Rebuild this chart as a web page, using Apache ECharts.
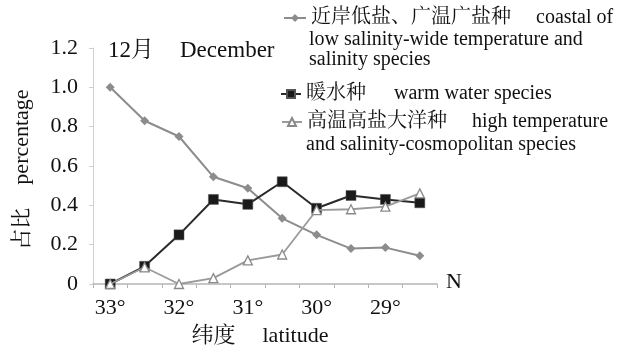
<!DOCTYPE html>
<html>
<head>
<meta charset="utf-8">
<script src="https://cdn.jsdelivr.net/npm/echarts@6/dist/echarts.min.js"></script>
<style>
  html, body { margin: 0; padding: 0; background: #fff; }
  #chart { width: 622px; height: 354px; }
</style>
</head>
<body>
<div id="chart"></div>
<script>
// Latitude stations, north to south
const latitudes = ['33°', '32.5°', '32°', '31.5°', '31°', '30.5°', '30°', '29.5°', '29°', '28.5°'];
// Share of each ecological group at each station (December)
const coastal = [1.0, 0.83, 0.75, 0.545, 0.487, 0.334, 0.25, 0.18, 0.185, 0.144];
const warmWater = [0.0, 0.09, 0.25, 0.43, 0.405, 0.52, 0.385, 0.45, 0.43, 0.413];
const oceanic = [0.0, 0.085, 0.0, 0.03, 0.12, 0.15, 0.376, 0.38, 0.393, 0.461];
const yTicks = [0, 0.2, 0.4, 0.6, 0.8, 1.0, 1.2];

const serif = "'Liberation Serif', 'Noto Serif CJK SC', 'Noto Sans CJK SC', serif";
const ink = '#111';

const chart = echarts.init(document.getElementById('chart'), null, { renderer: 'canvas' });

function legendAt(name, left, top, zh, en, gap, iconW) {
  return {
    data: [name],
    left: left,
    top: top,
    orient: 'vertical',
    padding: 0,
    itemWidth: iconW,
    itemHeight: 10,
    selectedMode: false,
    formatter: () => '{z|' + zh + '}{e|' + en + '}',
    textStyle: {
      fontFamily: serif,
      fontSize: 20,
      color: ink,
      rich: {
        z: { fontFamily: serif, fontSize: 20, color: ink },
        e: { fontFamily: serif, fontSize: 20, color: ink, padding: [0, 0, 0, gap] }
      }
    }
  };
}

const option = {
  animation: false,
  backgroundColor: '#fff',
  grid: { left: 93, right: 185, top: 48, bottom: 70, containLabel: false, outerBoundsMode: 'none' },
  legend: [
    legendAt('coastal', 283, 8, '近岸低盐、广温广盐种', 'coastal of', 25, 22),
    legendAt('warm', 280, 84, '暖水种', 'warm water species', 28, 20),
    legendAt('oceanic', 281, 112, '高温高盐大洋种', 'high temperature', 25, 20)
  ],
  xAxis: {
    type: 'category',
    data: latitudes,
    boundaryGap: true,
    name: '{z|纬度}{e|latitude}',
    nameLocation: 'middle',
    nameGap: 41,
    nameTextStyle: {
      fontFamily: serif, fontSize: 22, color: ink, padding: [0, 10, 0, 0],
      rich: {
        z: { fontFamily: serif, fontSize: 22, color: ink },
        e: { fontFamily: serif, fontSize: 22, color: ink, padding: [0, 0, 0, 27] }
      }
    },
    axisLine: { lineStyle: { color: '#b5b5b5', width: 1.5 } },
    axisTick: { show: true, interval: 0, length: 4, lineStyle: { color: '#b5b5b5' } },
    axisLabel: { interval: 1, margin: 13, fontFamily: serif, fontSize: 22, color: ink },
    splitLine: { show: false }
  },
  yAxis: {
    type: 'value',
    min: yTicks[0],
    max: yTicks[yTicks.length - 1],
    interval: 0.2,
    name: '{z|占比}{e|percentage}',
    nameLocation: 'middle',
    nameGap: 60,
    nameTextStyle: {
      fontFamily: serif, fontSize: 22, color: ink, padding: [0, 7, 0, 0],
      rich: {
        z: { fontFamily: serif, fontSize: 21, color: ink },
        e: { fontFamily: serif, fontSize: 22, color: ink, padding: [0, 0, 0, 23] }
      }
    },
    axisLine: { show: true, lineStyle: { color: '#d0d0d0', width: 1 } },
    axisTick: { show: true, length: 4, lineStyle: { color: '#d0d0d0' } },
    axisLabel: {
      margin: 15, fontFamily: serif, fontSize: 22, color: ink,
      formatter: v => (Math.abs(v) < 1e-9 ? '0' : v.toFixed(1))
    },
    splitLine: { show: false }
  },
  series: [
    {
      name: 'coastal',
      type: 'line',
      data: coastal,
      symbol: 'diamond',
      symbolSize: 9,
      lineStyle: { color: '#8c8c8c', width: 2 },
      itemStyle: { color: '#8c8c8c' },
      z: 2
    },
    {
      name: 'warm',
      type: 'line',
      data: warmWater,
      symbol: 'rect',
      symbolSize: 10,
      lineStyle: { color: '#2a2a2a', width: 2 },
      itemStyle: { color: '#1a1a1a', borderColor: '#555', borderWidth: 0.5 },
      z: 3
    },
    {
      name: 'oceanic',
      type: 'line',
      data: oceanic,
      symbol: 'triangle',
      symbolSize: 9,
      lineStyle: { color: '#9a9a9a', width: 1.8 },
      itemStyle: { color: '#fff', borderColor: '#8a8a8a', borderWidth: 1.3 },
      z: 4
    }
  ],
  graphic: [
    { type: 'text', left: 108, top: 39, style: { text: '12月', font: '23px ' + serif, fill: ink } },
    { type: 'text', left: 180, top: 39, style: { text: 'December', font: '23px ' + serif, fill: ink } },
    { type: 'text', left: 309, top: 30, style: { text: 'low salinity-wide temperature and', font: '20px ' + serif, fill: ink } },
    { type: 'text', left: 309, top: 50, style: { text: 'salinity species', font: '20px ' + serif, fill: ink } },
    { type: 'text', left: 306, top: 135, style: { text: 'and salinity-cosmopolitan species', font: '20px ' + serif, fill: ink } },
    { type: 'text', left: 446, top: 271, style: { text: 'N', font: '22px ' + serif, fill: ink } }
  ]
};

chart.setOption(option);
</script>
</body>
</html>
